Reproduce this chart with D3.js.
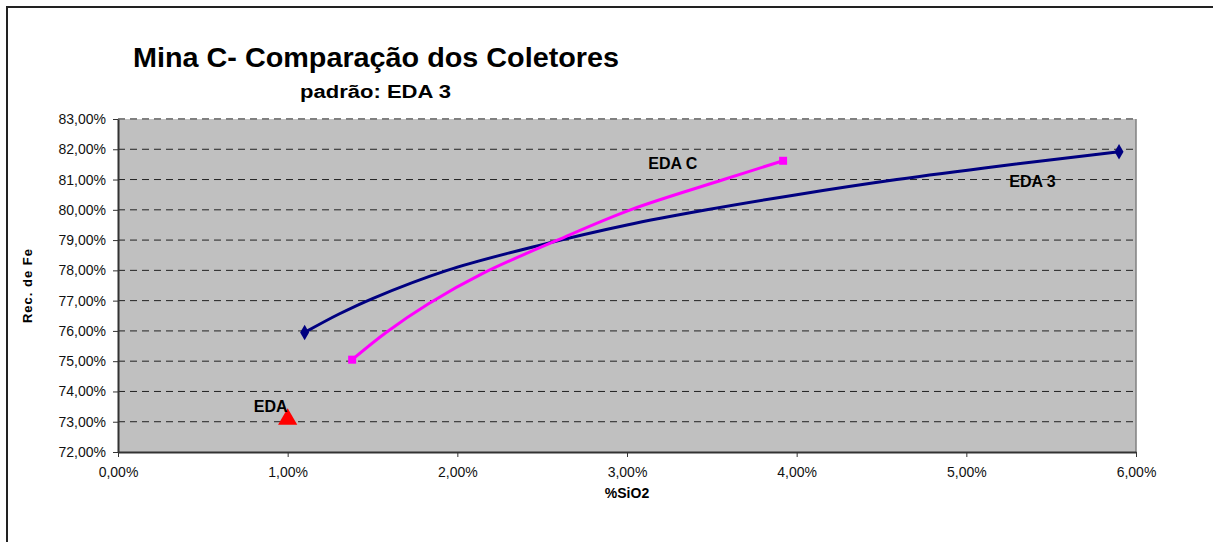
<!DOCTYPE html>
<html>
<head>
<meta charset="utf-8">
<script src="https://cdn.jsdelivr.net/npm/d3@7"></script>
<style>
  body { margin: 0; background: #fff; }
  text { font-family: Arial, "Liberation Sans", sans-serif; }
</style>
</head>
<body>
<svg width="1213" height="542"></svg>
<script>
// values (x = %SiO2, y = Rec. de Fe, both in %)
const eda3X = [1.10, 1.30, 1.50, 1.94, 2.50, 3.00, 3.47, 4.00, 4.59, 5.20, 5.90];
const eda3Y = [75.95, 76.55, 77.07, 78.0, 78.85, 79.5, 80.0, 80.5, 81.0, 81.45, 81.92];
const edaCX = [1.38, 1.58, 1.83, 2.15, 2.59, 3.02, 3.57, 3.92];
const edaCY = [75.05, 75.95, 76.9, 77.9, 79.0, 80.0, 81.0, 81.62];
const edaX = [1.00];
const edaY = [73.08];
const xTicks = [0, 1, 2, 3, 4, 5, 6];
const yTicks = [72, 73, 74, 75, 76, 77, 78, 79, 80, 81, 82, 83];

const svg = d3.select("svg");
const plot = {left: 118, right: 1136, top: 119, bottom: 452};
const fmt = v => v.toFixed(2).replace(".", ",") + "%";

const x = d3.scaleLinear().domain([0, 6]).range([plot.left, plot.right]);
const y = d3.scaleLinear().domain([72, 83]).range([plot.bottom, plot.top]);

// outer frame (only left and top visible)
svg.append("path")
  .attr("d", "M7,542V7H1213")
  .attr("fill", "none").attr("stroke", "#222").attr("stroke-width", 2);

// plot area
svg.append("rect")
  .attr("x", plot.left).attr("y", plot.top)
  .attr("width", plot.right - plot.left).attr("height", plot.bottom - plot.top)
  .attr("fill", "#c0c0c0");

svg.append("line")
  .attr("x1", plot.right).attr("x2", plot.right)
  .attr("y1", plot.top).attr("y2", plot.bottom)
  .attr("stroke", "#808080").attr("stroke-width", 1.5);

// dashed gridlines
svg.append("g").selectAll("line")
  .data(yTicks.slice(1))
  .join("line")
  .attr("x1", plot.left).attr("x2", plot.right)
  .attr("y1", d => y(d)).attr("y2", d => y(d))
  .attr("stroke", d => d === 83 ? "#808080" : "#222")
  .attr("stroke-width", d => d === 83 ? 2 : 1)
  .attr("stroke-dasharray", "7,5");

// axes
const yAxis = d3.axisLeft(y).tickValues(yTicks).tickFormat(fmt).tickSize(5).tickSizeOuter(0);
const xAxis = d3.axisBottom(x).tickValues(xTicks).tickFormat(fmt).tickSize(5).tickSizeOuter(0);

const gy = svg.append("g").attr("transform", `translate(${plot.left},0)`).call(yAxis);
const gx = svg.append("g").attr("transform", `translate(0,${plot.bottom})`).call(xAxis);

[gy, gx].forEach(g => {
  g.select(".domain").attr("stroke", "#333").attr("stroke-width", 2);
  g.selectAll(".tick line").attr("stroke", "#333");
  g.selectAll(".tick text")
    .attr("font-family", "Arial, 'Liberation Sans', sans-serif")
    .attr("font-size", 14).attr("fill", "#111");
});
gy.selectAll(".tick text").attr("x", -12);
gx.selectAll(".tick text").attr("y", 15);

// series
const line = d3.line().x(d => x(d[0])).y(d => y(d[1])).curve(d3.curveCatmullRom);
const eda3 = d3.zip(eda3X, eda3Y);
const edaC = d3.zip(edaCX, edaCY);

svg.append("path").datum(eda3).attr("d", line)
  .attr("fill", "none").attr("stroke", "#000080").attr("stroke-width", 3);
svg.append("path").datum(edaC).attr("d", line)
  .attr("fill", "none").attr("stroke", "#ff00ff").attr("stroke-width", 3);

// end markers
svg.append("g").selectAll("path")
  .data([eda3[0], eda3[eda3.length - 1]])
  .join("path")
  .attr("d", d3.symbol(d3.symbolDiamond, 70))
  .attr("transform", d => `translate(${x(d[0])},${y(d[1])})`)
  .attr("fill", "#000080");
svg.append("g").selectAll("rect")
  .data([edaC[0], edaC[edaC.length - 1]])
  .join("rect")
  .attr("x", d => x(d[0]) - 4).attr("y", d => y(d[1]) - 4)
  .attr("width", 8).attr("height", 8)
  .attr("fill", "#ff00ff");
svg.append("g").selectAll("path")
  .data(d3.zip(edaX, edaY))
  .join("path")
  .attr("d", d3.symbol(d3.symbolTriangle, 160))
  .attr("transform", d => `translate(${x(d[0])},${y(d[1])})`)
  .attr("fill", "#ff0000");

// series labels
const labels = [
  {t: "EDA C", x: 3.27, y: 81.35},
  {t: "EDA 3", x: 5.39, y: 80.75},
  {t: "EDA", x: 0.90, y: 73.32}
];
svg.append("g").selectAll("text")
  .data(labels)
  .join("text")
  .attr("x", d => x(d.x)).attr("y", d => y(d.y))
  .attr("text-anchor", "middle")
  .attr("font-size", 16).attr("font-weight", "bold").attr("fill", "#000")
  .text(d => d.t);

// titles
svg.append("text").attr("x", 133).attr("y", 67)
  .attr("font-size", 27).attr("font-weight", "bold")
  .attr("textLength", 486).attr("lengthAdjust", "spacingAndGlyphs")
  .text("Mina C- Comparação dos Coletores");
svg.append("text").attr("x", 300).attr("y", 98)
  .attr("font-size", 18).attr("font-weight", "bold")
  .attr("textLength", 151).attr("lengthAdjust", "spacingAndGlyphs")
  .text("padrão: EDA 3");
svg.append("text").attr("x", (plot.left + plot.right) / 2).attr("y", 498)
  .attr("text-anchor", "middle").attr("font-size", 14).attr("font-weight", "bold")
  .text("%SiO2");
svg.append("text")
  .attr("transform", `translate(32,${(plot.top + plot.bottom) / 2}) rotate(-90)`)
  .attr("text-anchor", "middle").attr("font-size", 13).attr("font-weight", "bold")
  .attr("letter-spacing", 1)
  .text("Rec. de Fe");
</script>
</body>
</html>
